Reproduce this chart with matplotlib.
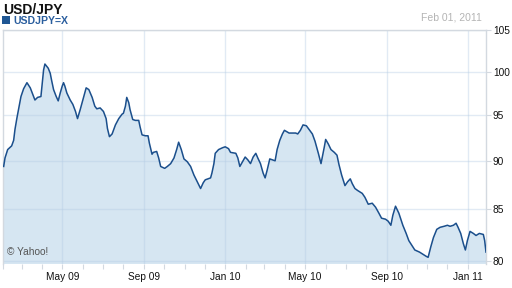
import matplotlib
matplotlib.use('Agg')
import matplotlib.pyplot as plt
import matplotlib.dates as mdates
from matplotlib.patches import Rectangle
from matplotlib.ticker import FixedLocator, FixedFormatter, NullLocator
import pandas as pd

# USD/JPY closes (Feb 2009 - Jan 2011)
dates = ['2009-02-02', '2009-02-04', '2009-02-08', '2009-02-14', '2009-02-17',
         '2009-02-19', '2009-02-22', '2009-02-25', '2009-02-28', '2009-03-04',
         '2009-03-09', '2009-03-14', '2009-03-17', '2009-03-21', '2009-03-25',
         '2009-03-30', '2009-04-01', '2009-04-03', '2009-04-05', '2009-04-10',
         '2009-04-13', '2009-04-15', '2009-04-18', '2009-04-22', '2009-04-25',
         '2009-04-28', '2009-05-01', '2009-05-03', '2009-05-05', '2009-05-08',
         '2009-05-13', '2009-05-17', '2009-05-21', '2009-05-24', '2009-05-28',
         '2009-06-01', '2009-06-06', '2009-06-10', '2009-06-15', '2009-06-19',
         '2009-06-22', '2009-06-27', '2009-07-02', '2009-07-06', '2009-07-08',
         '2009-07-11', '2009-07-15', '2009-07-20', '2009-07-25', '2009-07-30',
         '2009-08-01', '2009-08-04', '2009-08-06', '2009-08-09', '2009-08-11',
         '2009-08-15', '2009-08-19', '2009-08-24', '2009-08-26', '2009-08-29',
         '2009-09-03', '2009-09-07', '2009-09-09', '2009-09-13', '2009-09-15',
         '2009-09-20', '2009-09-23', '2009-09-26', '2009-10-02', '2009-10-06',
         '2009-10-11', '2009-10-16', '2009-10-20', '2009-10-23', '2009-10-27',
         '2009-10-31', '2009-11-05', '2009-11-10', '2009-11-15', '2009-11-20',
         '2009-11-25', '2009-11-29', '2009-12-02', '2009-12-10', '2009-12-12',
         '2009-12-15', '2009-12-17', '2009-12-22', '2009-12-28', '2010-01-01',
         '2010-01-06', '2010-01-09', '2010-01-17', '2010-01-20', '2010-01-23',
         '2010-01-27', '2010-01-31', '2010-02-04', '2010-02-08', '2010-02-12',
         '2010-02-16', '2010-02-19', '2010-02-23', '2010-02-27', '2010-03-02',
         '2010-03-05', '2010-03-09', '2010-03-13', '2010-03-17', '2010-03-20',
         '2010-03-24', '2010-03-28', '2010-03-31', '2010-04-07', '2010-04-17',
         '2010-04-20', '2010-04-24', '2010-04-28', '2010-05-03', '2010-05-08',
         '2010-05-12', '2010-05-16', '2010-05-21', '2010-05-25', '2010-05-27',
         '2010-05-30', '2010-06-01', '2010-06-05', '2010-06-09', '2010-06-14',
         '2010-06-18', '2010-06-21', '2010-06-25', '2010-06-30', '2010-07-04',
         '2010-07-08', '2010-07-11', '2010-07-15', '2010-07-19', '2010-07-26',
         '2010-07-30', '2010-08-04', '2010-08-10', '2010-08-15', '2010-08-20',
         '2010-08-24', '2010-08-30', '2010-09-03', '2010-09-07', '2010-09-10',
         '2010-09-14', '2010-09-19', '2010-09-25', '2010-09-30', '2010-10-04',
         '2010-10-10', '2010-10-13', '2010-10-20', '2010-10-25', '2010-10-30',
         '2010-11-02', '2010-11-06', '2010-11-10', '2010-11-15', '2010-11-20',
         '2010-11-26', '2010-12-01', '2010-12-05', '2010-12-10', '2010-12-14',
         '2010-12-17', '2010-12-21', '2010-12-25', '2010-12-28', '2010-12-31',
         '2011-01-04', '2011-01-09', '2011-01-13', '2011-01-18', '2011-01-24',
         '2011-01-26', '2011-01-28']
rates = [89.4, 90.3, 91.2, 91.6, 92.2, 93.4, 94.7, 95.9, 97.1, 98.0,
         98.7, 98.1, 97.5, 96.7, 97.0, 97.1, 98.7, 100.2, 100.9, 100.4,
         99.8, 99.0, 97.9, 97.1, 96.6, 97.5, 98.3, 98.7, 98.3, 97.5,
         96.7, 96.2, 95.4, 94.6, 95.6, 96.7, 98.1, 97.9, 97.0, 96.0,
         95.7, 95.8, 95.4, 94.6, 93.5, 92.6, 92.9, 93.9, 94.6, 95.1,
         95.2, 96.0, 97.0, 96.4, 95.6, 94.5, 94.4, 94.4, 93.7, 92.8,
         92.7, 92.7, 91.9, 90.7, 90.9, 91.0, 90.3, 89.4, 89.2, 89.4,
         89.7, 90.3, 91.2, 92.0, 91.2, 90.2, 89.9, 89.4, 88.5, 87.8,
         87.1, 87.7, 88.0, 88.2, 88.7, 89.7, 90.8, 91.2, 91.4, 91.5,
         91.3, 90.9, 90.8, 90.3, 89.4, 89.9, 90.4, 90.1, 89.7, 90.4,
         90.8, 90.3, 89.7, 88.7, 88.2, 89.0, 90.2, 90.1, 90.0, 91.2,
         92.2, 92.9, 93.3, 93.0, 93.0, 92.9, 93.3, 93.9, 93.8, 93.3,
         92.9, 92.1, 90.8, 89.7, 90.4, 91.5, 92.3, 91.8, 91.2, 90.9,
         90.6, 89.6, 88.5, 87.4, 87.8, 88.1, 87.6, 87.1, 86.9, 86.6,
         86.2, 85.5, 85.6, 85.2, 84.6, 84.1, 84.0, 83.8, 83.4, 84.4,
         85.3, 84.6, 83.4, 82.6, 81.9, 81.3, 81.0, 80.8, 80.6, 80.4,
         80.3, 81.3, 82.2, 83.0, 83.2, 83.3, 83.4, 83.3, 83.4, 83.6,
         83.2, 82.6, 81.6, 81.0, 81.9, 82.8, 82.6, 82.4, 82.6, 82.5,
         81.9, 80.8]
y_ticks = [80, 85, 90, 95, 100, 105]

line_col = '#1b4f8c'
fill_col = '#d6e6f2'
grid_col = '#b4cce4'
edge_col = '#d3d9e0'
font = ['Liberation Sans', 'DejaVu Sans']
plt.rcParams['font.family'] = font

x = pd.to_datetime(dates)

fig = plt.figure(figsize=(5.12, 2.88), dpi=100)
ax = fig.add_axes([3/512, 24/288, 483/512, 258.5/288 - 24/288])

ax.fill_between(x, rates, 70, color=fill_col, lw=0, zorder=1)
ax.plot(x, rates, color=line_col, lw=1.1, zorder=3)

ax.set_yscale('log')
ax.set_ylim(79.67, 105.1)
ax.set_xlim(pd.Timestamp('2009-02-01'), x[-1])

ax.yaxis.tick_right()
ax.yaxis.set_major_locator(FixedLocator(y_ticks))
ax.yaxis.set_major_formatter(FixedFormatter([str(t) for t in y_ticks]))
ax.yaxis.set_minor_locator(NullLocator())

ax.xaxis.set_major_locator(mdates.MonthLocator(bymonth=[1, 5, 9]))
ax.xaxis.set_major_formatter(mdates.DateFormatter('%b %y'))
ax.xaxis.set_minor_locator(mdates.MonthLocator())

ax.tick_params(axis='both', which='both', colors=edge_col, length=3.5, width=0.8,
               labelcolor='#111111', labelsize=7.3)
ax.tick_params(axis='y', pad=1.5)
ax.tick_params(axis='x', pad=2.5)

ax.grid(True, which='major', color=grid_col, alpha=0.4, lw=1, zorder=2)

for side in ['left', 'top', 'right']:
    ax.spines[side].set_color(edge_col)
    ax.spines[side].set_linewidth(1)
ax.spines['bottom'].set_visible(False)

ax.text(0.008, 0.03, '\u00a9 Yahoo!', transform=ax.transAxes, fontsize=7.3,
        color='#555555', va='bottom', ha='left', zorder=4)

fig.text(3/512, 1 - 2.5/288, 'USD/JPY', fontsize=10, fontweight='bold',
         color='#111111', va='top', ha='left')
fig.add_artist(Rectangle((2/512, 1 - 24/288), 8/512, 8/288,
                         transform=fig.transFigure, color='#1f5794', lw=0))
fig.text(13/512, 1 - 20.5/288, 'USDJPY=X', fontsize=7.6, fontweight='bold',
         color='#2a5e9e', va='center', ha='left')
fig.text(482/512, 1 - 18/288, 'Feb 01, 2011', fontsize=7.5, color='#b4b4b4',
         va='center', ha='right')

plt.savefig('out.png', dpi=100)
